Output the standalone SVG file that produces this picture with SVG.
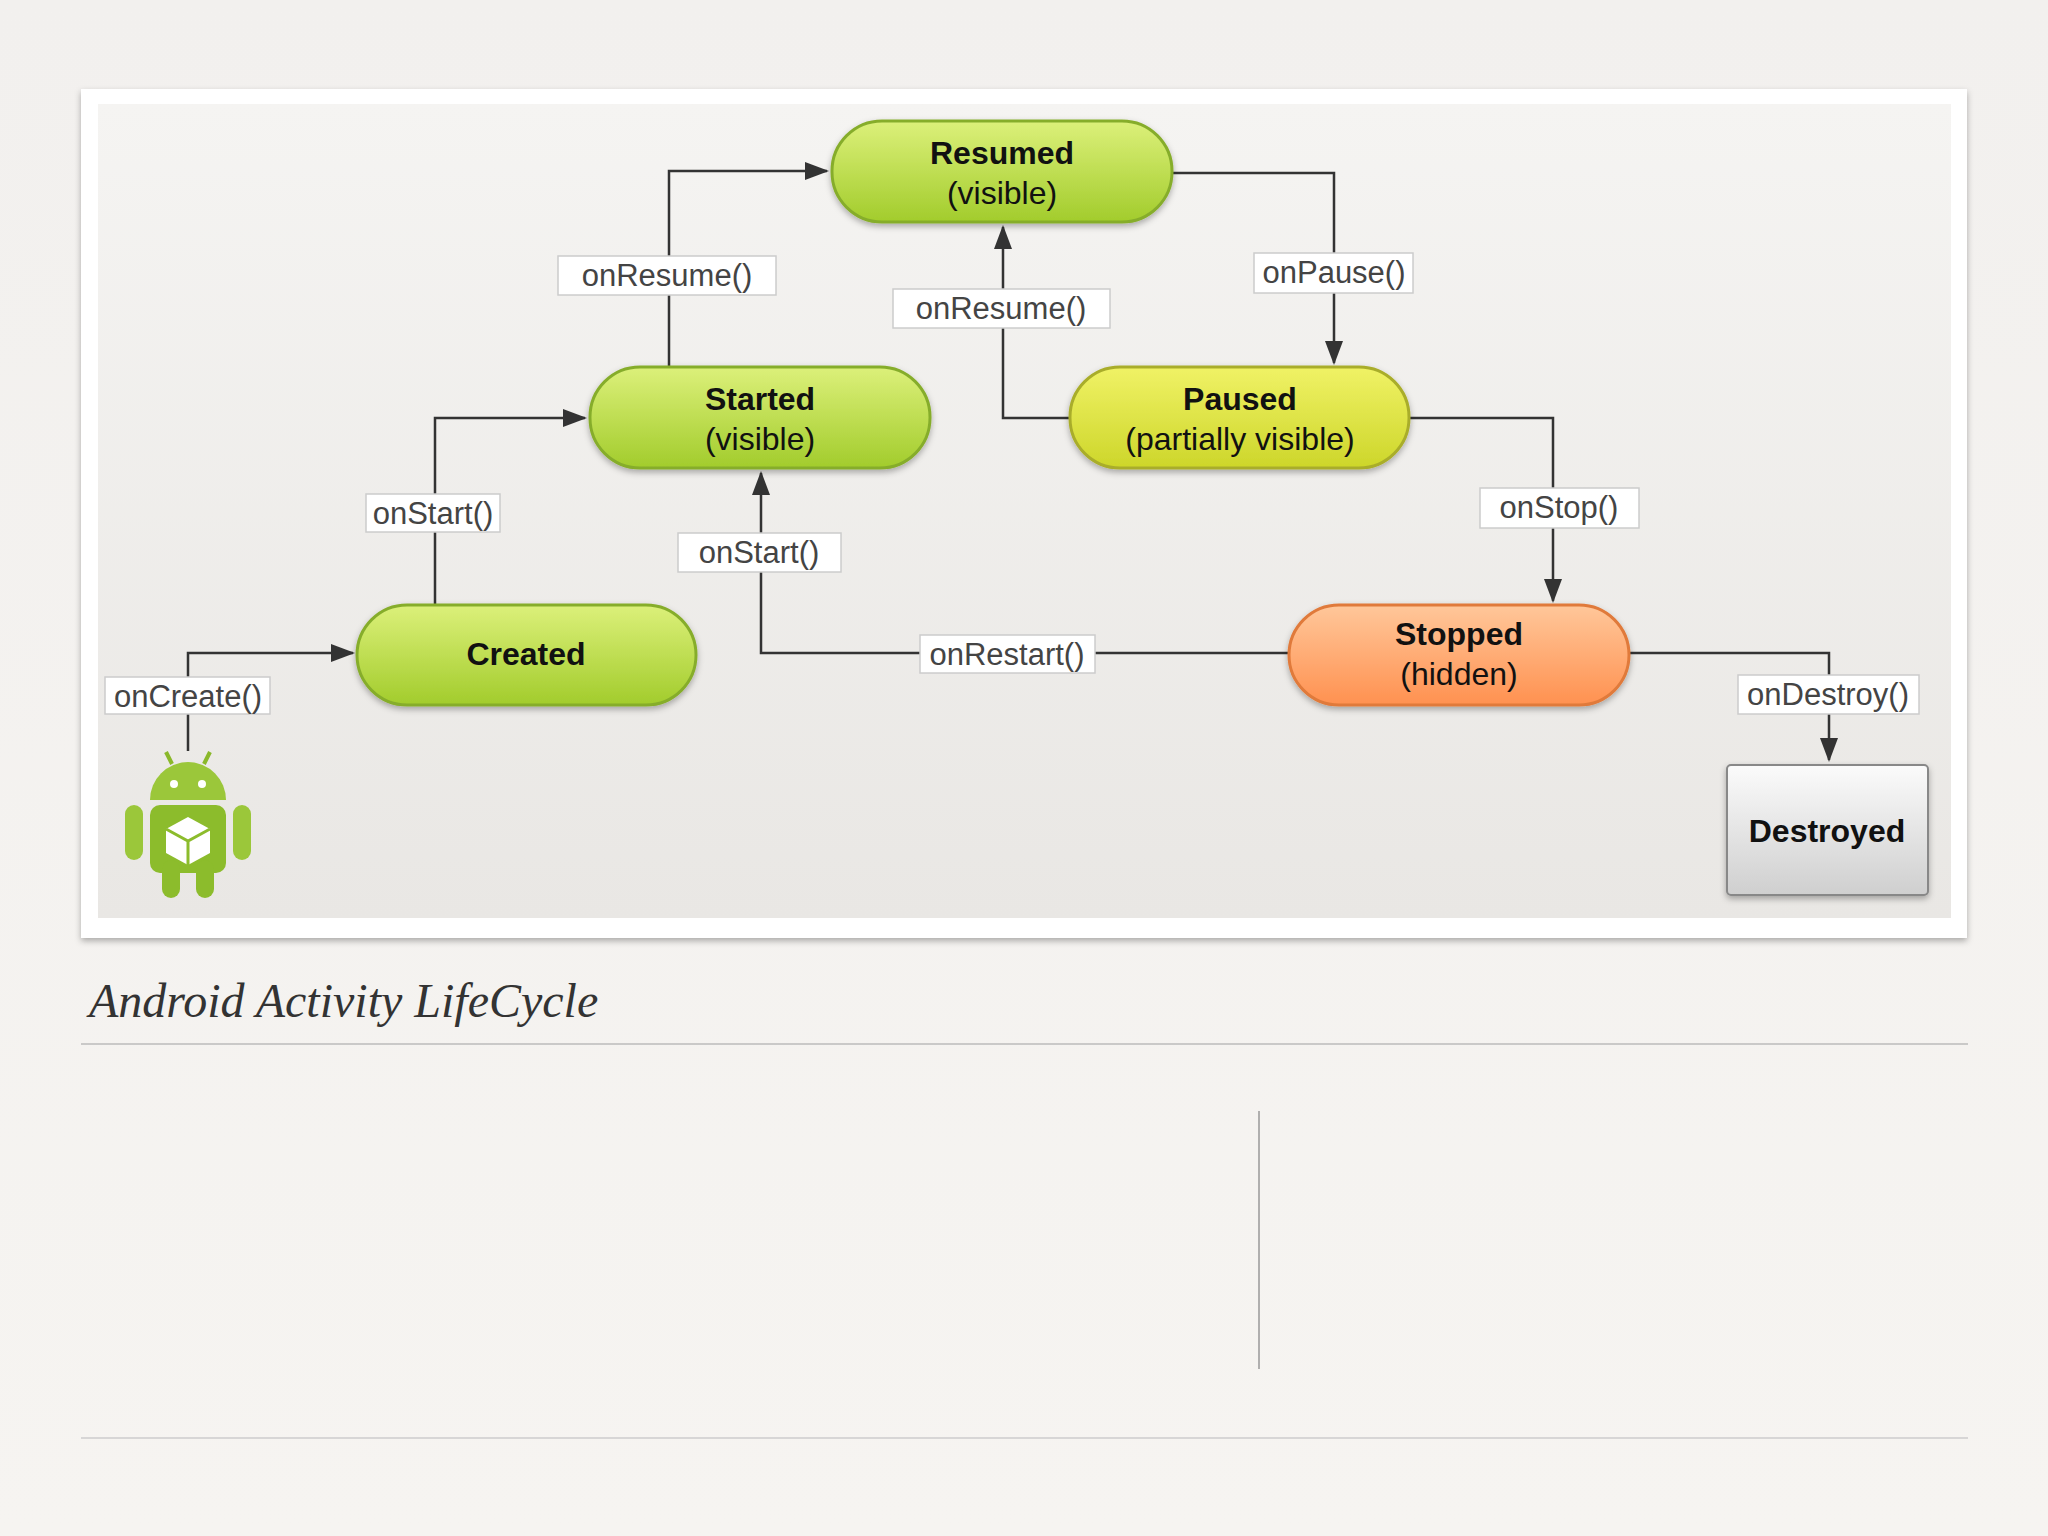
<svg xmlns="http://www.w3.org/2000/svg" width="2048" height="1536" viewBox="0 0 2048 1536">
<defs>
<linearGradient id="bg" x1="0" y1="0" x2="0" y2="1"><stop offset="0" stop-color="#f2f0ee"/><stop offset="1" stop-color="#f6f4f1"/></linearGradient>
<linearGradient id="panel" x1="0" y1="0" x2="0" y2="1"><stop offset="0" stop-color="#f5f4f2"/><stop offset="1" stop-color="#e9e7e4"/></linearGradient>
<linearGradient id="g" x1="0" y1="0" x2="0" y2="1"><stop offset="0" stop-color="#dcf07a"/><stop offset="1" stop-color="#a2cc2c"/></linearGradient>
<linearGradient id="y" x1="0" y1="0" x2="0" y2="1"><stop offset="0" stop-color="#f0f266"/><stop offset="1" stop-color="#cdd62a"/></linearGradient>
<linearGradient id="o" x1="0" y1="0" x2="0" y2="1"><stop offset="0" stop-color="#ffc79a"/><stop offset="1" stop-color="#ff9150"/></linearGradient>
<linearGradient id="d" x1="0" y1="0" x2="0" y2="1"><stop offset="0" stop-color="#fbfbfb"/><stop offset="1" stop-color="#cfcfcf"/></linearGradient>
<marker id="ar" markerWidth="24" markerHeight="20" refX="22" refY="10" orient="auto" markerUnits="userSpaceOnUse" viewBox="0 0 24 20"><path d="M0,1 L24,10 L0,19 z" fill="#333"/></marker>
<filter id="sh" x="-10%" y="-10%" width="120%" height="130%"><feDropShadow dx="0" dy="3" stdDeviation="3" flood-color="#000" flood-opacity="0.3"/></filter>
</defs>
<style>
.n{stroke-width:3}
.gr{fill:url(#g);stroke:#86ad2c}
.t{font-family:"Liberation Sans",Arial,sans-serif;font-size:32px;text-anchor:middle;fill:#111}
.b{font-weight:bold}
.lb{fill:#fff;stroke:#ccc;stroke-width:1.5}
.lt{font-family:"Liberation Sans",Arial,sans-serif;font-size:31px;text-anchor:middle;fill:#444}
.c{fill:none;stroke:#333;stroke-width:2.5}
</style>
<rect width="2048" height="1536" fill="url(#bg)"/>
<rect x="81" y="89" width="1886" height="849" fill="#fff" filter="url(#sh)"/>
<rect x="98" y="104" width="1853" height="814" fill="url(#panel)"/>
<g id="connectors">
<path class="c" d="M188,751 V653 H353" marker-end="url(#ar)"/>
<path class="c" d="M435,605 V418 H585" marker-end="url(#ar)"/>
<path class="c" d="M669,367 V171 H827" marker-end="url(#ar)"/>
<path class="c" d="M1172,173 H1334 V363" marker-end="url(#ar)"/>
<path class="c" d="M1070,418 H1003 V227" marker-end="url(#ar)"/>
<path class="c" d="M1409,418 H1553 V601" marker-end="url(#ar)"/>
<path class="c" d="M1289,653 H761 V473" marker-end="url(#ar)"/>
<path class="c" d="M1629,653 H1829 V760" marker-end="url(#ar)"/>
</g>
<g id="labels">
<rect class="lb" x="105" y="677" width="165" height="37"/><text class="lt" x="188" y="707">onCreate()</text>
<rect class="lb" x="366" y="494" width="134" height="38"/><text class="lt" x="433" y="524">onStart()</text>
<rect class="lb" x="558" y="256" width="218" height="39"/><text class="lt" x="667" y="286">onResume()</text>
<rect class="lb" x="893" y="289" width="217" height="39"/><text class="lt" x="1001" y="319">onResume()</text>
<rect class="lb" x="1254" y="253" width="159" height="40"/><text class="lt" x="1334" y="283">onPause()</text>
<rect class="lb" x="678" y="533" width="163" height="39"/><text class="lt" x="759" y="563">onStart()</text>
<rect class="lb" x="1480" y="488" width="159" height="40"/><text class="lt" x="1559" y="518">onStop()</text>
<rect class="lb" x="920" y="635" width="175" height="38"/><text class="lt" x="1007" y="665">onRestart()</text>
<rect class="lb" x="1738" y="675" width="181" height="39"/><text class="lt" x="1828" y="705">onDestroy()</text>
</g>
<g id="resumed"><rect class="n gr" x="832" y="121" width="340" height="101" rx="50" filter="url(#sh)"/><text class="t b" x="1002" y="164">Resumed</text><text class="t" x="1002" y="204">(visible)</text></g>
<g id="started"><rect class="n gr" x="590" y="367" width="340" height="101" rx="50" filter="url(#sh)"/><text class="t b" x="760" y="410">Started</text><text class="t" x="760" y="450">(visible)</text></g>
<g id="paused"><rect class="n" fill="url(#y)" stroke="#a9ad2a" x="1070" y="367" width="339" height="101" rx="50" filter="url(#sh)"/><text class="t b" x="1240" y="410">Paused</text><text class="t" x="1240" y="450">(partially visible)</text></g>
<g id="created"><rect class="n gr" x="357" y="605" width="339" height="100" rx="50" filter="url(#sh)"/><text class="t b" x="526" y="665">Created</text></g>
<g id="stopped"><rect class="n" fill="url(#o)" stroke="#e07a3a" x="1289" y="605" width="340" height="100" rx="50" filter="url(#sh)"/><text class="t b" x="1459" y="645">Stopped</text><text class="t" x="1459" y="685">(hidden)</text></g>
<g id="destroyed"><rect fill="url(#d)" stroke="#888" stroke-width="2" x="1727" y="765" width="201" height="130" rx="4" filter="url(#sh)"/><text class="t b" x="1827" y="842">Destroyed</text></g>
<g id="android">
<line x1="166" y1="752" x2="172" y2="764" stroke="#8ab82a" stroke-width="4"/>
<line x1="210" y1="752" x2="204" y2="764" stroke="#8ab82a" stroke-width="4"/>
<path d="M150,800 A38,38 0 0 1 226,800 Z" fill="#9bc73a"/>
<circle cx="174" cy="784" r="4" fill="#fff"/><circle cx="202" cy="784" r="4" fill="#fff"/>
<rect x="150" y="805" width="76" height="68" rx="10" fill="#8cbc2c"/>
<rect x="125" y="805" width="18" height="55" rx="9" fill="#9bc73a"/>
<rect x="233" y="805" width="18" height="55" rx="9" fill="#9bc73a"/>
<rect x="162" y="860" width="18" height="38" rx="9" fill="#8cbc2c"/>
<rect x="196" y="860" width="18" height="38" rx="9" fill="#8cbc2c"/>
<path d="M188,817 L210,829 L210,853 L188,865 L166,853 L166,829 Z" fill="#fff"/>
<path d="M188,841 L188,865 M166,829 L188,841 L210,829" stroke="#8cbc2c" stroke-width="3" fill="none"/>
</g>
<text x="89" y="1017" font-family="'Liberation Serif','DejaVu Serif',serif" font-style="italic" font-size="48" fill="#333">Android Activity LifeCycle</text>
<line x1="81" y1="1044" x2="1968" y2="1044" stroke="#bbb" stroke-width="1.5"/>
<line x1="1259" y1="1111" x2="1259" y2="1369" stroke="#999" stroke-width="1.5"/>
<line x1="81" y1="1438" x2="1968" y2="1438" stroke="#ccc" stroke-width="1.5"/>
</svg>
